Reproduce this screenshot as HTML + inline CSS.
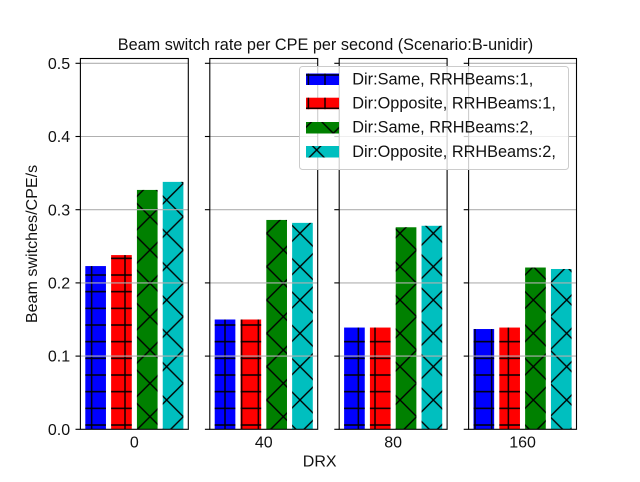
<!DOCTYPE html>
<html>
<head>
<meta charset="utf-8">
<title>Beam switch rate</title>
<style>
html,body{margin:0;padding:0;background:#fff;}
svg{display:block;}
text{font-family:"Liberation Sans",Arial,sans-serif;fill:#111;}
</style>
</head>
<body>
<svg id="chart" xmlns="http://www.w3.org/2000/svg" width="640" height="482" viewBox="0 0 640 482">
<defs>
<pattern id="hatch-plus" patternUnits="userSpaceOnUse" width="16.667" height="16.667">
<path d="M8.333 0V16.667M0 8.333H16.667" stroke="#000" stroke-width="1.39" fill="none"/>
</pattern>
<pattern id="hatch-x" patternUnits="userSpaceOnUse" width="33.333" height="33.333">
<path d="M-2 -2L35.333 35.333M-2 35.333L35.333 -2" stroke="#000" stroke-width="1.39" fill="none"/>
</pattern>
</defs>
<g id="plots"></g>
<text x="325.5" y="50" font-size="16.25" text-anchor="middle">Beam switch rate per CPE per second (Scenario:B-unidir)</text>
<text x="0" y="0" font-size="16.1" text-anchor="middle" transform="translate(37 244) rotate(-90)">Beam switches/CPE/s</text>
<text x="319.7" y="466.7" font-size="16" text-anchor="middle">DRX</text>
<g>
<rect x="299.5" y="66.5" width="269" height="103" rx="3" fill="#fff" fill-opacity="0.8" stroke="#ccc" stroke-width="1"/>
<g>
<rect x="306" y="73.5" width="33" height="11.5" fill="#0000ff"/><rect x="306" y="73.5" width="33" height="11.5" fill="url(#hatch-plus)"/>
<text x="352.3" y="84.5" font-size="16.3">Dir:Same, RRHBeams:1,</text>
</g>
<g>
<rect x="306" y="97.7" width="33" height="11.5" fill="#ff0000"/><rect x="306" y="97.7" width="33" height="11.5" fill="url(#hatch-plus)"/>
<text x="352.3" y="108.5" font-size="16.3">Dir:Opposite, RRHBeams:1,</text>
</g>
<g>
<rect x="306" y="122" width="33" height="11.5" fill="#008000"/><rect x="306" y="122" width="33" height="11.5" fill="url(#hatch-x)"/>
<text x="352.3" y="132.7" font-size="16.3">Dir:Same, RRHBeams:2,</text>
</g>
<g>
<rect x="306" y="146" width="33" height="11.5" fill="#00bfbf"/><rect x="306" y="146" width="33" height="11.5" fill="url(#hatch-x)"/>
<text x="352.3" y="157" font-size="16.3">Dir:Opposite, RRHBeams:2,</text>
</g>
</g>
</svg>
<script>
const categories = ['0', '40', '80', '160'];
const sameBeams1 = [0.223, 0.150, 0.139, 0.137];
const oppositeBeams1 = [0.238, 0.150, 0.139, 0.139];
const sameBeams2 = [0.327, 0.286, 0.276, 0.221];
const oppositeBeams2 = [0.338, 0.282, 0.278, 0.219];
const yTicks = [0, 0.1, 0.2, 0.3, 0.4, 0.5];

const seriesValues = [sameBeams1, oppositeBeams1, sameBeams2, oppositeBeams2];
const seriesColors = ['#0000ff', '#ff0000', '#008000', '#00bfbf'];
const seriesHatch = ['hatch-plus', 'hatch-plus', 'hatch-x', 'hatch-x'];
const seriesNames = ['same-beams-1', 'opposite-beams-1', 'same-beams-2', 'opposite-beams-2'];

const NS = 'http://www.w3.org/2000/svg';
const plotsRoot = document.getElementById('plots');
const plotTop = 58.5, plotBottom = 429.3, plotLeft = 80.4, panelWidth = 107.9, panelStep = 129.4;
const yScale = v => plotBottom - v * 732;
const panelX = p => plotLeft + p * panelStep;
const barStep = panelWidth / 4.18;
const barX = (p, s) => panelX(p) + barStep * (0.19 + s);

function make(tag, attrs, parent) {
  const el = document.createElementNS(NS, tag);
  for (const k in attrs) el.setAttribute(k, attrs[k]);
  parent.appendChild(el);
  return el;
}

categories.forEach((cat, p) => {
  const g = make('g', {}, plotsRoot);
  
  

  seriesValues.forEach((vals, s) => {
    const x = barX(p, s), w = barStep * 0.8, y = yScale(vals[p]), h = plotBottom - y;
    const bar = make('rect', {x: x, y: y, width: w, height: h, fill: seriesColors[s]}, g);
    
    
    const hatch = make('rect', {x: x, y: y, width: w, height: h, fill: 'url(#' + seriesHatch[s] + ')'}, g);
    
    
  });

  yTicks.forEach(t => {
    const y = yScale(t);
    if (t > 0) {
      const grid = make('line', {x1: panelX(p), x2: panelX(p) + panelWidth, y1: y, y2: y, stroke: '#b0b0b0', 'stroke-width': 1.1}, g);
      
      
    }
    const tick = make('line', {x1: panelX(p) - 4.9, x2: panelX(p), y1: y, y2: y, stroke: '#000', 'stroke-width': 1.1}, g);
    
    
    if (p === 0) {
      const lab = make('text', {x: panelX(p) - 10.3, y: y + 5.6, 'font-size': 16, 'text-anchor': 'end'}, g);
      lab.textContent = t.toFixed(1);
      
      
    }
  });

  const frame = make('rect', {x: panelX(p), y: plotTop, width: panelWidth, height: plotBottom - plotTop, fill: 'none', stroke: '#000', 'stroke-width': 1.1}, g);
  
  

  const xl = make('text', {x: panelX(p) + panelWidth / 2, y: 447.3, 'font-size': 16, 'text-anchor': 'middle'}, g);
  xl.textContent = cat;
  
  
});
</script>
</body>
</html>
